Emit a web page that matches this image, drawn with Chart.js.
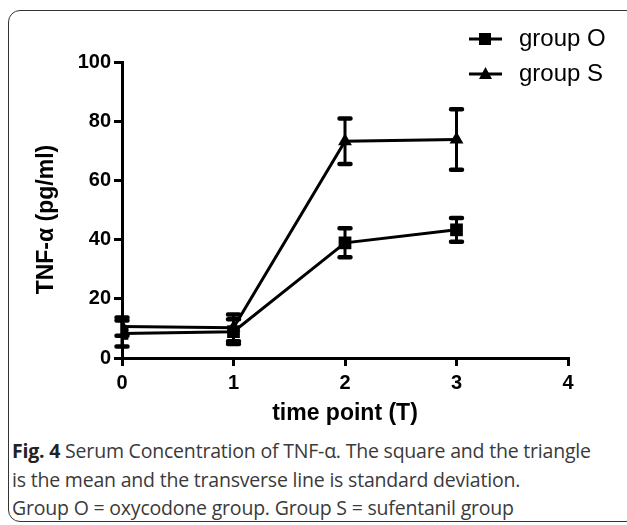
<!DOCTYPE html>
<html lang="en">
<head>
    <meta charset="UTF-8">
    <title>TNF-α Serum Concentration</title>
    <script src="https://cdn.jsdelivr.net/npm/chart.js@4.4.1/dist/chart.umd.min.js"></script>
    <style>
        html, body {
            margin: 0;
            padding: 0;
            background: #fff;
        }
        .page {
            position: relative;
            width: 627px;
            height: 525px;
            overflow: hidden;
        }
        .frame {
            position: absolute;
            left: 8px;
            top: 10px;
            width: 630px;
            height: 512px;
            border: 1.5px solid #333;
            border-radius: 12px;
            box-sizing: border-box;
        }
        #chart {
            position: absolute;
            left: 0;
            top: 0;
        }
        .caption {
            position: absolute;
            left: 12px;
            top: 437px;
            width: 614px;
            font-family: "Open Sans", sans-serif;
            font-size: 19.5px;
            line-height: 28.5px;
            color: #3a3a3a;
            letter-spacing: -0.2px;
            white-space: nowrap;
        }
        .caption b {
            font-weight: 700;
            color: #222;
        }
    </style>
</head>
<body>
    <div class="page">
        <div class="frame"></div>
        <canvas id="chart" width="627" height="430"></canvas>
        <div class="caption">
            <b>Fig. 4</b> Serum Concentration of TNF-α. The square and the triangle<br>
            is the mean and the transverse line is standard deviation.<br>
            Group O = oxycodone group. Group S = sufentanil group
        </div>
    </div>

    <script>
        // values (mean and standard deviation)
        const timePoints = [0, 1, 2, 3];
        const groupO = [8.3, 8.9, 38.9, 43.3];
        const groupOSd = [4.4, 4.2, 4.9, 4.0];
        const groupS = [10.6, 10.2, 73.2, 73.8];
        const groupSSd = [3.1, 4.5, 7.7, 10.2];

        const xTicks = [0, 1, 2, 3, 4];
        const yTicks = [0, 20, 40, 60, 80, 100];

        const seriesNames = ['group O', 'group S'];

        const boldFont = 'Arial, "Liberation Sans", sans-serif';

        function toPoints(xs, ys) {
            return xs.map((x, i) => ({ x: x, y: ys[i] }));
        }

        // error bars: vertical line with flat caps
        const errorBars = {
            id: 'errorBars',
            afterDatasetsDraw(chart) {
                const ctx = chart.ctx;
                const yScale = chart.scales.y;
                ctx.save();
                ctx.strokeStyle = '#000';
                ctx.lineCap = 'round';
                chart.data.datasets.forEach((ds, di) => {
                    const meta = chart.getDatasetMeta(di);
                    ds.sd.forEach((sd, i) => {
                        const pt = meta.data[i];
                        const v = ds.data[i].y;
                        const top = yScale.getPixelForValue(v + sd);
                        const bottom = yScale.getPixelForValue(v - sd);
                        ctx.lineWidth = 3;
                        ctx.beginPath();
                        ctx.moveTo(pt.x, top);
                        ctx.lineTo(pt.x, bottom);
                        ctx.stroke();
                        ctx.lineWidth = 4.5;
                        ctx.beginPath();
                        ctx.moveTo(pt.x - 5.5, top);
                        ctx.lineTo(pt.x + 5.5, top);
                        ctx.moveTo(pt.x - 5.5, bottom);
                        ctx.lineTo(pt.x + 5.5, bottom);
                        ctx.stroke();
                    });
                });
                ctx.restore();
            }
        };

        // legend in the top right corner: line + marker + name
        const cornerLegend = {
            id: 'cornerLegend',
            afterDraw(chart) {
                const ctx = chart.ctx;
                ctx.save();
                chart.data.datasets.forEach((ds, i) => {
                    const y = 39 + i * 35;
                    ctx.strokeStyle = '#000';
                    ctx.lineWidth = 3;
                    ctx.beginPath();
                    ctx.moveTo(469, y);
                    ctx.lineTo(502, y);
                    ctx.stroke();
                    ctx.fillStyle = '#000';
                    ctx.beginPath();
                    if (ds.pointStyle === 'rect') {
                        ctx.rect(479, y - 6, 12, 12);
                    } else {
                        ctx.moveTo(485.5, y - 7);
                        ctx.lineTo(492, y + 5);
                        ctx.lineTo(479, y + 5);
                        ctx.closePath();
                    }
                    ctx.fill();
                    ctx.font = '24px Arial, "Liberation Sans", sans-serif';
                    ctx.textBaseline = 'middle';
                    ctx.fillText(ds.label, 519, y);
                });
                ctx.restore();
            }
        };

        new Chart(document.getElementById('chart'), {
            type: 'line',
            data: {
                datasets: [
                    {
                        label: seriesNames[0],
                        data: toPoints(timePoints, groupO),
                        sd: groupOSd,
                        borderColor: '#000',
                        borderWidth: 3,
                        pointStyle: 'rect',
                        pointRadius: 9,
                        pointBackgroundColor: '#000',
                        pointBorderWidth: 0,
                        tension: 0
                    },
                    {
                        label: seriesNames[1],
                        data: toPoints(timePoints, groupS),
                        sd: groupSSd,
                        borderColor: '#000',
                        borderWidth: 3,
                        pointStyle: 'triangle',
                        pointRadius: 8,
                        pointBackgroundColor: '#000',
                        pointBorderWidth: 0,
                        tension: 0
                    }
                ]
            },
            options: {
                responsive: false,
                animation: false,
                layout: {
                    padding: { left: 0, top: 62, right: 59, bottom: 0 }
                },
                plugins: {
                    legend: { display: false },
                    tooltip: { enabled: false }
                },
                scales: {
                    x: {
                        type: 'linear',
                        min: 0,
                        max: 4,
                        afterFit(scale) { scale.height = 72; },
                        afterBuildTicks(scale) {
                            scale.ticks = xTicks.map(v => ({ value: v }));
                        },
                        border: { color: '#000', width: 3 },
                        grid: {
                            drawOnChartArea: false,
                            drawTicks: true,
                            tickLength: 8,
                            color: '#000',
                            lineWidth: 3
                        },
                        ticks: {
                            color: '#000',
                            padding: 5,
                            font: { family: boldFont, size: 20, weight: 'bold' }
                        },
                        title: {
                            display: true,
                            text: 'time point (T)',
                            color: '#000',
                            padding: { top: 0, bottom: 3 },
                            font: { family: boldFont, size: 23, weight: 'bold' }
                        }
                    },
                    y: {
                        type: 'linear',
                        min: 0,
                        max: 100,
                        afterFit(scale) { scale.width = 122; },
                        afterBuildTicks(scale) {
                            scale.ticks = yTicks.map(v => ({ value: v }));
                        },
                        border: { color: '#000', width: 3 },
                        grid: {
                            drawOnChartArea: false,
                            drawTicks: true,
                            tickLength: 8,
                            color: '#000',
                            lineWidth: 3
                        },
                        ticks: {
                            color: '#000',
                            padding: 3,
                            font: { family: boldFont, size: 20, weight: 'bold' }
                        },
                        title: {
                            display: true,
                            text: 'TNF-α (pg/ml)   ',
                            color: '#000',
                            padding: { top: 33, bottom: 0 },
                            font: { family: boldFont, size: 23, weight: 'bold' }
                        }
                    }
                }
            },
            plugins: [errorBars, cornerLegend]
        });
    </script>
</body>
</html>
